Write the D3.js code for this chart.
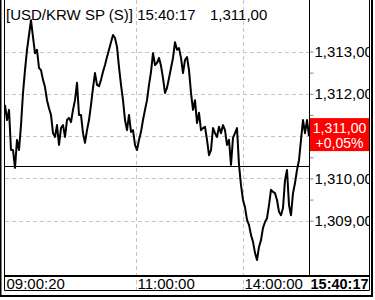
<!DOCTYPE html>
<html>
<head>
<meta charset="utf-8">
<script src="https://cdn.jsdelivr.net/npm/d3@7"></script>
<style>
  body { margin: 0; background: #fff; }
  svg { display: block; font-family: "Liberation Sans", Arial, sans-serif; }
</style>
</head>
<body>
<div id="chart"></div>
<script>
// tick series, one value every ~2px of the plot
const prices = [
  1311.74, 1311.38, 1311.62, 1310.67, 1310.67, 1310.25, 1310.91, 1310.67, 1311.26, 1312.02,
  1312.56, 1313.04, 1313.39, 1313.74, 1313.34, 1312.96, 1313.04, 1312.61, 1312.56, 1312.33,
  1312.16, 1311.85, 1311.66, 1311.50, 1311.07, 1310.98, 1311.26, 1310.79, 1311.19, 1311.26,
  1310.98, 1311.38, 1311.43, 1311.33, 1311.62, 1311.85, 1312.26, 1311.50, 1311.50, 1311.07,
  1310.84, 1311.14, 1311.38, 1311.74, 1312.14, 1312.49, 1312.21, 1312.18, 1312.33, 1312.52,
  1312.68, 1312.87, 1313.04, 1313.22, 1313.39, 1313.32, 1313.11, 1312.63, 1312.21, 1311.85,
  1311.38, 1311.14, 1311.50, 1311.10, 1311.14, 1310.79, 1310.67, 1310.91, 1311.10, 1311.38,
  1311.62, 1311.85, 1312.21, 1312.52, 1312.96, 1312.68, 1312.73, 1312.85, 1312.66, 1312.37,
  1312.02, 1312.14, 1312.37, 1312.61, 1312.85, 1313.22, 1313.04, 1313.08, 1312.85, 1312.49,
  1312.80, 1312.87, 1312.56, 1312.02, 1311.62, 1311.85, 1311.31, 1311.55, 1311.14, 1311.19,
  1311.22, 1310.91, 1310.55, 1310.67, 1311.19, 1311.07, 1310.98, 1311.22, 1311.07, 1311.26,
  1311.14, 1310.79, 1310.91, 1310.32, 1310.96, 1311.07, 1311.19, 1310.32, 1309.84, 1309.49,
  1309.32, 1309.02, 1308.90, 1308.66, 1308.50, 1308.24, 1308.07, 1308.38, 1308.54, 1308.83,
  1308.97, 1309.06, 1309.37, 1309.73, 1309.68, 1309.65, 1309.49, 1309.21, 1309.13, 1309.30,
  1309.96, 1310.20, 1309.37, 1309.13, 1309.65, 1309.89, 1310.20, 1310.43, 1310.91, 1311.38,
  1311.07, 1311.38, 1311.00
];
const prevClose = 1310.30;

const yMajor = [1309, 1310, 1311, 1312, 1313];
const yMinor = [1309.5, 1310.5, 1311.5, 1312.5];

// positions of the time labels, in series index
const xTickIdx = [0, 65.5, 119, 152];
const xTickLabels = ["09:00:20", "11:00:00", "14:00:00", "15:40:17"];

const title = "[USD/KRW SP (S)] 15:40:17";

// decimal shown as comma in the original
const loc = d3.formatLocale({decimal: ",", thousands: ",", grouping: [3], currency: ["", ""]});
const fmtPrice = loc.format(",.2f");
const fmtPct = loc.format("+.2f");

const width = 375, height = 300;
const plotLeft = 4.5, plotRight = 309.5, plotBottom = 276, panelRight = 369.5;

const svg = d3.select("#chart").append("svg")
    .attr("width", width)
    .attr("height", height);

const x = d3.scaleLinear()
    .domain([0, prices.length - 1])
    .range([5, 309]);

const y = d3.scaleLinear()
    .domain([1309, 1313])
    .range([220.7, 51.5]);

const snap = v => Math.round(v) + 0.5;
const last = prices[prices.length - 1];
const ly = y(last);

// grid
svg.append("g")
    .selectAll("line")
    .data(yMajor)
    .join("line")
    .attr("x1", plotLeft).attr("x2", plotRight)
    .attr("y1", d => snap(y(d))).attr("y2", d => snap(y(d)))
    .attr("stroke", "#c4c4c4")
    .attr("stroke-dasharray", "4,3")
    .attr("shape-rendering", "crispEdges");

svg.append("g")
    .selectAll("line")
    .data(xTickIdx.slice(1, 3))
    .join("line")
    .attr("x1", d => snap(x(d))).attr("x2", d => snap(x(d)))
    .attr("y1", 0).attr("y2", 290)
    .attr("stroke", "#c4c4c4")
    .attr("stroke-dasharray", "4,3")
    .attr("shape-rendering", "crispEdges");

// previous close line
svg.append("line")
    .attr("x1", plotLeft).attr("x2", plotRight)
    .attr("y1", snap(y(prevClose))).attr("y2", snap(y(prevClose)))
    .attr("stroke", "#000")
    .attr("shape-rendering", "crispEdges");

// price line
const line = d3.line()
    .x((d, i) => x(i))
    .y(d => y(d));

svg.append("path")
    .datum(prices)
    .attr("fill", "none")
    .attr("stroke", "#000")
    .attr("stroke-width", 2)
    .attr("stroke-linejoin", "round")
    .attr("d", line);

// right axis, clipped by the panel
svg.append("clipPath").attr("id", "panel")
    .append("rect")
    .attr("x", 0).attr("y", 0)
    .attr("width", panelRight - plotRight - 0.5).attr("height", plotBottom);

const yAxis = svg.append("g")
    .attr("transform", `translate(${plotRight},0)`)
    .attr("clip-path", "url(#panel)");

yAxis.append("g")
    .call(d3.axisRight(y).tickValues(yMinor).tickSize(4).tickFormat(""))
    .call(g => g.select(".domain").remove());

yAxis.append("g")
    .call(d3.axisRight(y).tickValues(yMajor).tickSize(4).tickPadding(1).tickFormat(fmtPrice))
    .call(g => g.select(".domain").remove())
    .call(g => g.selectAll("text")
        .style("font-size", "15px")
        .attr("fill", "#000")
        .filter(d => Math.abs(y(d) - ly) < 18)   // hidden under the last price box
        .remove());

yAxis.selectAll(".tick line").attr("stroke", "#888");

// last price label
svg.append("rect")
    .attr("x", plotRight + 0.5).attr("y", ly - 18)
    .attr("width", panelRight - plotRight - 0.5).attr("height", 33)
    .attr("fill", "#ff0000");

svg.append("text")
    .attr("x", 339.5).attr("y", ly - 3)
    .attr("text-anchor", "middle")
    .attr("fill", "#fff")
    .style("font-size", "14px")
    .text(fmtPrice(last));

svg.append("text")
    .attr("x", 339.5).attr("y", ly + 12)
    .attr("text-anchor", "middle")
    .attr("fill", "#fff")
    .style("font-size", "14px")
    .text(fmtPct((last - prevClose) / prevClose * 100) + "%");

// bottom time axis
const xAxis = svg.append("g")
    .attr("transform", `translate(0,${plotBottom})`)
    .call(d3.axisBottom(x).tickValues(xTickIdx).tickSize(0).tickFormat((d, i) => xTickLabels[i]))
    .call(g => g.select(".domain").remove());

xAxis.selectAll("text")
    .attr("text-anchor", "start")
    .attr("x", 1)
    .attr("y", 12.5)
    .attr("dy", null)
    .attr("fill", "#000")
    .style("font-size", "15px");

xAxis.selectAll(".tick").filter((d, i) => i === xTickIdx.length - 1)
    .select("text")
    .style("font-weight", "bold")
    .style("font-size", "14.5px");

// frames
svg.append("line")
    .attr("x1", plotRight).attr("x2", plotRight)
    .attr("y1", 0).attr("y2", plotBottom)
    .attr("stroke", "#000");

svg.append("line")
    .attr("x1", plotLeft).attr("x2", panelRight)
    .attr("y1", plotBottom).attr("y2", plotBottom)
    .attr("stroke", "#000")
    .attr("stroke-width", 2);

svg.append("path")
    .attr("d", `M${plotLeft},0V290.5H${panelRight}V0`)
    .attr("fill", "none")
    .attr("stroke", "#000");

svg.append("path")
    .attr("d", "M0.5,0V296H372V0")
    .attr("fill", "none")
    .attr("stroke", "#000")
    .attr("stroke-width", 2);

// title
svg.append("text")
    .attr("x", 6).attr("y", 19.5)
    .style("font-size", "15px")
    .text(title);

svg.append("text")
    .attr("x", 210).attr("y", 19.5)
    .style("font-size", "15px")
    .text(fmtPrice(last));
</script>
</body>
</html>
